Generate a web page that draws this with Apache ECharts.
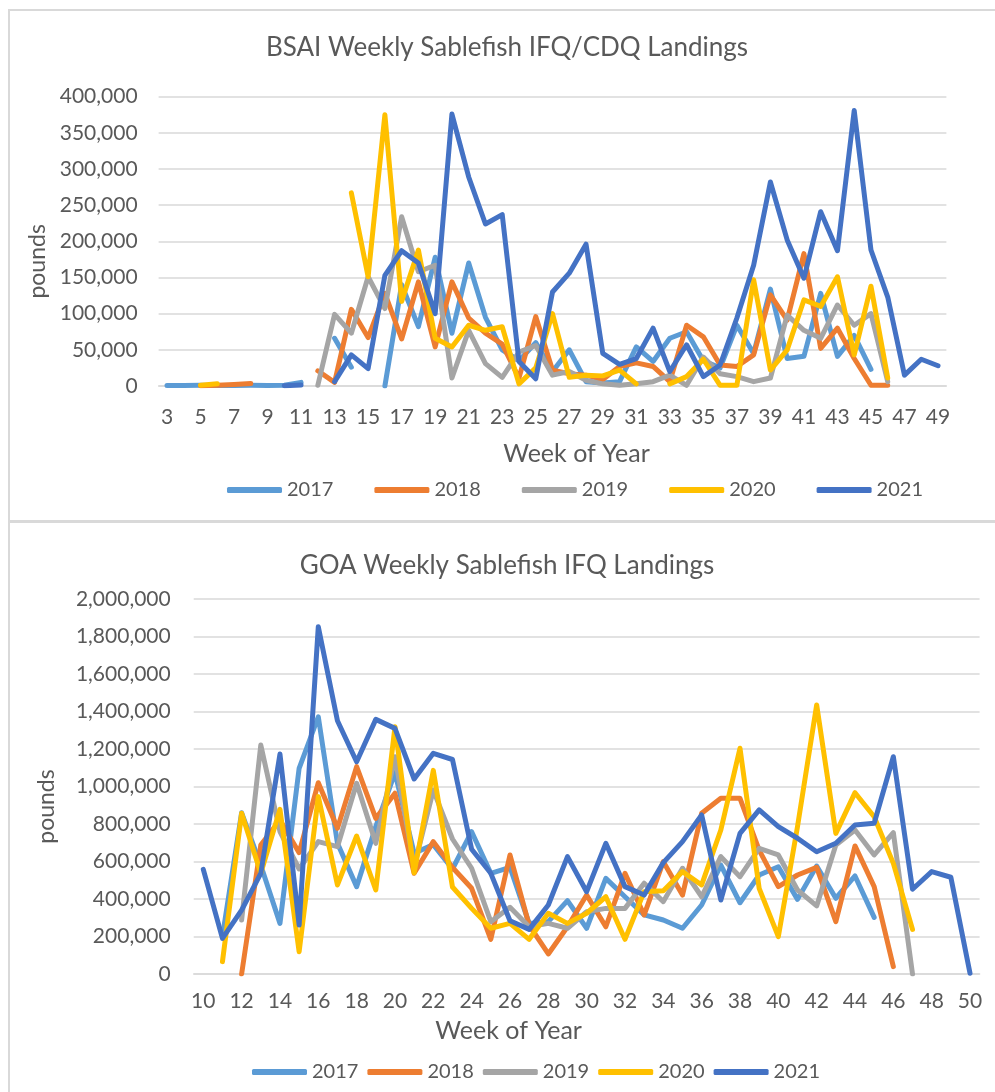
<!DOCTYPE html>
<html>
<head>
<meta charset="utf-8">
<script src="https://cdn.jsdelivr.net/npm/echarts@6/dist/echarts.min.js"></script>
<style>
  body { margin: 0; background: #fff; overflow: hidden; width: 995px; height: 1092px; position: relative; }
  .frame { position: absolute; border: 2px solid #d9d9d9; box-sizing: border-box; }
  .chart { position: absolute; }
</style>
</head>
<body>
<div class="frame" style="left:8px;top:9px;width:1000px;height:513px"></div>
<div class="frame" style="left:8px;top:521px;width:1000px;height:600px"></div>
<div id="bsai" class="chart" style="left:0;top:0;width:1014px;height:521px"></div>
<div id="goa" class="chart" style="left:0;top:523px;width:1014px;height:569px"></div>
<script>
// week labels
var bsaiWeeks = ['3','4','5','6','7','8','9','10','11','12','13','14','15','16','17','18','19','20','21','22','23','24','25','26','27','28','29','30','31','32','33','34','35','36','37','38','39','40','41','42','43','44','45','46','47','48','49'];
var goaWeeks = ['10','11','12','13','14','15','16','17','18','19','20','21','22','23','24','25','26','27','28','29','30','31','32','33','34','35','36','37','38','39','40','41','42','43','44','45','46','47','48','49','50'];
var years = ['2017', '2018', '2019', '2020', '2021'];
var colors = ['#5B9BD5', '#ED7D31', '#A5A5A5', '#FFC000', '#4472C4'];

// BSAI weekly landings (pounds), weeks 3..49
var bsai2017 = [800,800,1000,800,800,1000,800,1000,5000,null,66000,26000,null,0,140000,82000,178000,73000,170000,95000,50000,35000,60000,20000,50000,6000,4000,6000,54000,34000,66000,75000,35000,25000,84000,45000,134000,38000,41000,128000,41000,70000,23000,null,null,null,null];
var bsai2018 = [null,null,500,1000,2000,3500,null,null,null,21000,5000,106000,67000,128000,65000,144000,54000,144000,94000,73000,58000,11000,96000,22000,17000,15000,9000,27000,32000,27000,6000,84000,68000,29000,27000,43000,126000,91000,183000,52000,80000,38000,1000,1000,null,null,null];
var bsai2019 = [null,null,null,null,null,null,null,null,null,1000,99000,73000,151000,107000,234000,158000,167000,11000,77000,31000,12000,47000,56000,15000,20000,8000,3000,1000,3000,6000,15000,1000,40000,17000,13000,6000,11000,98000,77000,66000,112000,84000,100000,6000,null,null,null];
var bsai2020 = [null,null,1000,3000,null,null,null,null,null,null,null,267000,151000,375000,117000,188000,66000,54000,84000,77000,82000,3000,25000,100000,12000,15000,14000,22000,3000,null,3000,13000,37000,1000,1000,147000,22000,50000,119000,110000,151000,43000,138000,11000,null,null,null];
var bsai2021 = [null,null,null,null,null,null,null,500,1500,null,6000,43000,24000,153000,187000,170000,100000,376000,289000,224000,237000,34000,10000,130000,156000,196000,45000,30000,38000,80000,20000,57000,13000,29000,94000,167000,282000,202000,149000,241000,187000,381000,188000,123000,15000,37000,28000];

// GOA weekly landings (pounds), weeks 10..50
var goa2017 = [null,200000,860000,580000,270000,1097000,1372000,697000,466000,786000,1074000,644000,690000,560000,759000,537000,569000,270000,279000,391000,244000,510000,412000,315000,288000,244000,368000,581000,380000,528000,572000,398000,576000,404000,523000,302000,null,null,null,null,null];
var goa2018 = [null,null,0,688000,821000,647000,1020000,777000,1106000,830000,964000,537000,706000,568000,457000,185000,635000,260000,107000,252000,421000,252000,537000,315000,599000,421000,857000,937000,937000,661000,466000,528000,569000,279000,683000,466000,39000,null,null,null,null];
var goa2019 = [null,null,288000,1221000,760000,560000,706000,679000,1017000,697000,1159000,572000,981000,720000,564000,279000,356000,252000,270000,244000,332000,350000,350000,484000,386000,564000,412000,626000,519000,670000,635000,448000,363000,688000,768000,635000,754000,0,null,null,null];
var goa2020 = [null,66000,857000,537000,878000,119000,946000,475000,736000,448000,1319000,540000,1086000,464000,350000,244000,270000,185000,324000,270000,324000,412000,185000,439000,444000,546000,475000,768000,1204000,457000,199000,786000,1435000,750000,967000,839000,590000,238000,null,null,null];
var goa2021 = [558000,190000,341000,537000,1173000,261000,1852000,1351000,1132000,1358000,1310000,1040000,1177000,1144000,665000,537000,284000,238000,368000,626000,439000,697000,466000,421000,594000,706000,848000,395000,750000,875000,786000,724000,652000,697000,795000,804000,1159000,452000,546000,516000,4000];

var FONT = 'Lato';
var TXT = '#595959';
var GRID = '#d9d9d9';

function fmt(v) {
  return v.toString().replace(/\B(?=(\d{3})+(?!\d))/g, ',');
}

function buildSeries(list) {
  return list.map(function (d, i) {
    return {
      name: years[i],
      type: 'line',
      data: d,
      symbol: 'none',
      connectNulls: false,
      lineStyle: { width: 5, color: colors[i], cap: 'round', join: 'round' },
      itemStyle: { color: colors[i] },
      emphasis: { disabled: true }
    };
  });
}

function buildOption(p) {
  return {
    animation: false,
    textStyle: { fontFamily: FONT },
    title: {
      text: p.title,
      left: 'center',
      top: p.titleTop,
      textStyle: { fontFamily: FONT, fontSize: 26, fontWeight: 'normal', color: TXT }
    },
    legend: {
      data: years,
      left: p.legendLeft,
      top: p.legendTop,
      icon: 'roundRect',
      itemWidth: 55,
      itemHeight: 6,
      itemGap: p.legendGap,
      textStyle: { fontFamily: FONT, fontSize: 20, color: TXT }
    },
    grid: p.grid,
    xAxis: {
      type: 'category',
      data: p.weeks,
      boundaryGap: true,
      name: 'Week of Year',
      nameLocation: 'middle',
      nameGap: p.xNameGap,
      nameTextStyle: { fontFamily: FONT, fontSize: 25, color: TXT, padding: p.xNamePad },
      axisLine: { lineStyle: { color: GRID, width: 1.5 } },
      axisTick: { show: false },
      axisLabel: { interval: 1, margin: p.xLabelMargin, fontFamily: FONT, fontSize: 21, color: TXT }
    },
    yAxis: {
      type: 'value',
      min: 0,
      max: p.yMax,
      interval: p.yStep,
      name: 'pounds',
      nameLocation: 'middle',
      nameGap: p.yNameGap,
      nameTextStyle: { fontFamily: FONT, fontSize: 23, color: TXT, padding: [0, 40, 0, 0] },
      axisLine: { show: false },
      axisTick: { show: false },
      splitLine: { lineStyle: { color: GRID, width: 1.5 } },
      axisLabel: { margin: p.yLabelMargin, fontFamily: FONT, fontSize: 21, color: TXT, formatter: fmt }
    },
    series: buildSeries(p.data)
  };
}

var chart1 = echarts.init(document.getElementById('bsai'));
chart1.setOption(buildOption({
  title: 'BSAI Weekly Sablefish IFQ/CDQ Landings',
  titleTop: 30,
  legendLeft: 222,
  legendTop: 475,
  legendGap: 41,
  grid: { left: 158.6, top: 96.7, width: 787.8, height: 289.3 },
  weeks: bsaiWeeks,
  xNameGap: 55,
  xNamePad: [0, 0, 0, 48],
  xLabelMargin: 21,
  yMax: 400000,
  yStep: 50000,
  yNameGap: 108,
  yLabelMargin: 21,
  data: [bsai2017, bsai2018, bsai2019, bsai2020, bsai2021]
}));

var chart2 = echarts.init(document.getElementById('goa'));
chart2.setOption(buildOption({
  title: 'GOA Weekly Sablefish IFQ Landings',
  titleTop: 25,
  legendLeft: 247,
  legendTop: 534,
  legendGap: 9,
  grid: { left: 193.7, top: 76, width: 785.9, height: 375 },
  weeks: goaWeeks,
  xNameGap: 44,
  xNamePad: [0, 156, 0, 0],
  xLabelMargin: 17,
  yMax: 2000000,
  yStep: 200000,
  yNameGap: 136,
  yLabelMargin: 23,
  data: [goa2017, goa2018, goa2019, goa2020, goa2021]
}));
</script>
</body>
</html>
